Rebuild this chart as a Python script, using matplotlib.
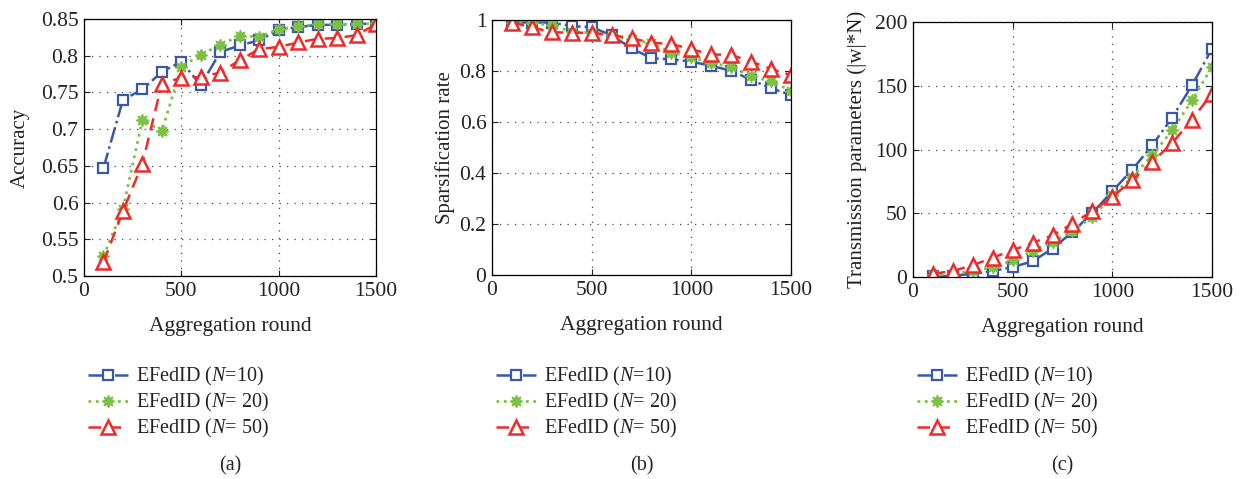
import matplotlib.pyplot as plt
from matplotlib.ticker import FixedLocator

plt.rcParams["font.family"] = ["Liberation Serif", "DejaVu Serif"]
plt.rcParams["mathtext.fontset"] = "custom"
plt.rcParams["mathtext.it"] = "Liberation Serif:italic"
plt.rcParams["mathtext.rm"] = "Liberation Serif"

rounds = [100, 200, 300, 400, 500, 600, 700, 800, 900, 1000, 1100, 1200, 1300, 1400, 1500]

acc_n10 = [0.647, 0.740, 0.754, 0.778, 0.792, 0.760, 0.805, 0.814, 0.821, 0.835,
           0.839, 0.842, 0.842, 0.843, 0.844]
acc_n20 = [0.527, 0.591, 0.713, 0.697, 0.785, 0.801, 0.815, 0.827, 0.826, 0.836,
           0.840, 0.843, 0.843, 0.843, 0.844]
acc_n50 = [0.519, 0.588, 0.653, 0.762, 0.770, 0.771, 0.777, 0.794, 0.809, 0.812,
           0.818, 0.823, 0.824, 0.828, 0.843]

sp_n10 = [0.99, 0.99, 0.99, 0.976, 0.972, 0.94, 0.889, 0.85, 0.846, 0.837,
          0.82, 0.801, 0.765, 0.732, 0.706]
sp_n20 = [0.99, 0.987, 0.98, 0.954, 0.95, 0.935, 0.924, 0.909, 0.872, 0.854,
          0.833, 0.815, 0.781, 0.759, 0.723]
sp_n50 = [0.99, 0.971, 0.952, 0.95, 0.95, 0.941, 0.928, 0.911, 0.906, 0.885,
          0.865, 0.863, 0.837, 0.808, 0.784]

tp_n10 = [0.5, 1.0, 2.5, 4.7, 7.8, 12.3, 22.3, 35.3, 50.2, 67.2,
          84.2, 103.3, 125.0, 150.4, 179.0]
tp_n20 = [1.2, 2.6, 4.7, 7.8, 13.0, 20.4, 27.5, 36.0, 47.0, 64.0,
          78.4, 95.5, 115.0, 138.6, 164.7]
tp_n50 = [2.5, 4.7, 9.2, 15.2, 21.0, 26.7, 32.7, 41.8, 51.8, 62.8,
          75.9, 90.2, 105.0, 123.5, 143.9]

labels = [r"EFedID ($\mathit{N}$=10)", r"EFedID ($\mathit{N}$= 20)", r"EFedID ($\mathit{N}$= 50)"]

panels = [
    ("Accuracy", [acc_n10, acc_n20, acc_n50], (0.5, 0.85),
     [0.5, 0.55, 0.6, 0.65, 0.7, 0.75, 0.8, 0.85],
     ["0.5", "0.55", "0.6", "0.65", "0.7", "0.75", "0.8", "0.85"], "(a)", 8),
    ("Sparsification rate", [sp_n10, sp_n20, sp_n50], (0, 1),
     [0, 0.2, 0.4, 0.6, 0.8, 1.0],
     ["0", "0.2", "0.4", "0.6", "0.8", "1"], "(b)", 3),
    ("Transmission parameters (|w|*N)", [tp_n10, tp_n20, tp_n50], (0, 200),
     [0, 50, 100, 150, 200],
     ["0", "50", "100", "150", "200"], "(c)", 6),
]

styles = [
    dict(color="#3a58a8", linestyle="-.", marker="s", markersize=7,
         markerfacecolor="white", markeredgewidth=1.6, linewidth=1.8),
    dict(color="#7cc242", linestyle=":", marker=(8, 1, 0), markersize=9,
         markerfacecolor="#7cc242", markeredgewidth=1.0, linewidth=2.0),
    dict(color="#ee2a2a", linestyle=(0, (5, 3)), marker="^", markersize=10,
         markerfacecolor="white", markeredgewidth=1.8, linewidth=1.8),
]

fig = plt.figure(figsize=(12.42, 4.79), dpi=100)

W, H = 1242, 479
boxes = [(84, 376, 19, 276), (492, 791, 20, 275), (913, 1212, 22, 277)]

for (l, r, t, b), (ylab, series, ylim, yt, ytl, cap, ypad) in zip(boxes, panels):
    ax = fig.add_axes([l / W, 1 - b / H, (r - l) / W, (b - t) / H])
    lines = []
    for s, st, lab in zip(series, styles, labels):
        ln, = ax.plot(rounds, s, label=lab, **st)
        lines.append(ln)
    ax.set_xlim(0, 1500)
    ax.set_ylim(*ylim)
    ax.xaxis.set_major_locator(FixedLocator([0, 500, 1000, 1500]))
    ax.set_yticks(yt)
    ax.set_yticklabels(ytl)
    ax.tick_params(direction="in", top=True, right=True, labelsize=15.5,
                   length=4, width=0.8, colors="#222222", pad=4)
    ax.grid(True, color="#444444", linestyle=(0, (1, 5)), linewidth=0.9)
    for sp in ax.spines.values():
        sp.set_linewidth(0.9)
    ax.set_xlabel("Aggregation round", fontsize=15.5, color="#222222", labelpad=12)
    ax.set_ylabel(ylab, fontsize=15, color="#222222", labelpad=ypad)
    leg = fig.legend(handles=lines, loc="upper left",
                     bbox_to_anchor=((l - 4) / W, 1 - 357 / H),
                     frameon=False, fontsize=14.5, handlelength=2.0,
                     handletextpad=0.4, labelspacing=0.15, borderaxespad=0)
    for txt in leg.get_texts():
        txt.set_color("#222222")
    fig.text((l + r) / 2 / W, 1 - 466 / H, cap, ha="center", va="center",
             fontsize=14.5, color="#222222")

fig.savefig("out.png", dpi=100)
